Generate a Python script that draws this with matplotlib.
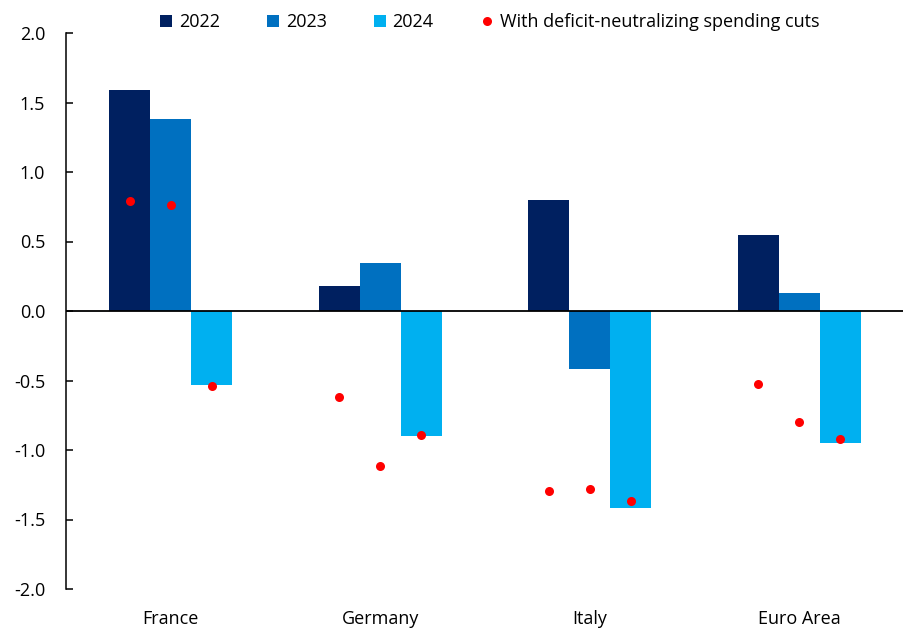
import matplotlib
matplotlib.use("Agg")
import matplotlib.pyplot as plt
from matplotlib.lines import Line2D
import numpy as np

plt.rcParams['font.family'] = ['Open Sans', 'DejaVu Sans']
plt.rcParams['axes.unicode_minus'] = False

categories = ["France", "Germany", "Italy", "Euro Area"]
years = ["2022", "2023", "2024"]
v2022 = [1.59, 0.18, 0.80, 0.55]
v2023 = [1.38, 0.345, -0.42, 0.127]
v2024 = [-0.53, -0.90, -1.42, -0.947]
cuts2022 = [0.79, -0.62, -1.295, -0.525]
cuts2023 = [0.76, -1.115, -1.28, -0.80]
cuts2024 = [-0.54, -0.89, -1.365, -0.923]
dot_label = "With deficit-neutralizing spending cuts"
yticks = [2.0, 1.5, 1.0, 0.5, 0.0, -0.5, -1.0, -1.5, -2.0]

colors = ["#002060", "#0070C0", "#00B0F0"]
red = "#FF0000"

fig = plt.figure(figsize=(9.04, 6.30), dpi=100)
ax = fig.add_axes([66/904, 1 - 589/630, 1 - 66/904, (589 - 33)/630])

x = np.arange(len(categories))
w = 0.195
series = [v2022, v2023, v2024]
dots = [cuts2022, cuts2023, cuts2024]
for i, (vals, dts) in enumerate(zip(series, dots)):
    off = (i - 1) * w
    ax.bar(x + off, vals, width=w, color=colors[i], zorder=2)
    ax.plot(x + off, dts, linestyle='none', marker='o', markersize=6.5,
            color=red, markeredgewidth=0, zorder=3)

ax.axhline(0, color='black', linewidth=1.3, zorder=4)

ax.set_xlim(-0.5, len(categories) - 0.5)
ax.set_ylim(-2.0, 2.0)
ax.set_yticks(yticks)
ax.set_yticklabels([f"{t:.1f}" for t in yticks])
ax.set_xticks(x)
ax.set_xticklabels(categories)

for s in ['top', 'right', 'bottom']:
    ax.spines[s].set_visible(False)
ax.spines['left'].set_linewidth(1.1)
ax.spines['left'].set_color('black')

ax.tick_params(axis='y', direction='in', length=5, width=1.1, pad=15,
               labelsize=13, colors='black')
ax.tick_params(axis='x', length=0, pad=15, labelsize=13, colors='black')

handles = [Line2D([0], [0], linestyle='none', marker='s', markersize=8,
                  color=c, markeredgewidth=0) for c in colors]
handles.append(Line2D([0], [0], linestyle='none', marker='o', markersize=6.5,
                      color=red, markeredgewidth=0))
labels = years + [dot_label]
fig.legend(handles, labels, loc='center', bbox_to_anchor=(489.5/904, 1 - 22/630),
           ncol=4, frameon=False, fontsize=13, handlelength=0.7,
           handletextpad=0.35, columnspacing=2.6, borderaxespad=0)

fig.savefig("out.png", dpi=100)
